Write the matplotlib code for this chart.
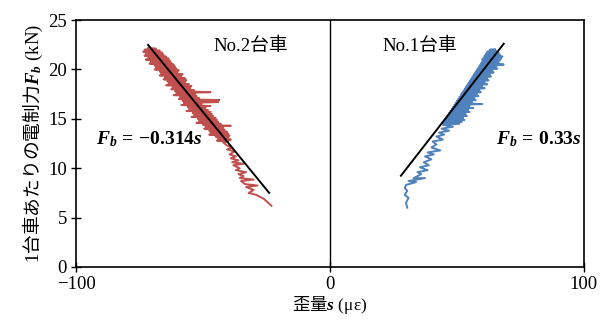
import numpy as np
import matplotlib
matplotlib.use("Agg")
import matplotlib.pyplot as plt

plt.rcParams['font.family'] = ['Liberation Serif', 'Noto Sans CJK JP']
plt.rcParams['mathtext.fontset'] = 'custom'
# latin bits inside the mixed CJK axis labels go through \mathsf
plt.rcParams['mathtext.rm'] = 'Liberation Serif'
plt.rcParams['mathtext.sf'] = 'Liberation Serif'
plt.rcParams['mathtext.it'] = 'Liberation Serif:italic:bold'
plt.rcParams['mathtext.bf'] = 'Liberation Serif:bold'

# No.2 bogie: strain s (με) vs braking force Fb (kN)
s2 = [-71.5, -68.5, -73.0, -67.0, -73.5, -66.0, -72.5, -65.5, -73.0, -64.5,
      -71.5, -63.5, -72.5, -63.0, -70.5, -62.5, -71.0, -61.5, -69.0, -61.0,
      -68.5, -60.5, -69.0, -59.5, -67.0, -60.0, -66.5, -58.0, -67.0, -58.5,
      -65.0, -57.0, -65.5, -56.5, -64.0, -57.0, -63.5, -55.5, -64.5, -54.5,
      -62.0, -55.0, -62.5, -53.5, -61.0, -47.0, -60.5, -53.0, -61.5, -52.5,
      -59.0, -51.5, -59.5, -43.5, -58.0, -44.0, -57.5, -50.5, -58.5, -47.0,
      -56.0, -49.0, -55.5, -48.0, -56.5, -47.0, -54.0, -46.5, -53.5, -46.0,
      -54.5, -45.0, -52.0, -44.5, -51.5, -44.0, -52.5, -43.0, -50.0, -39.0,
      -49.0, -42.0, -49.5, -41.5, -47.5, -40.5, -47.0, -40.0, -47.5, -39.5,
      -45.0, -40.0, -44.0, -39.0, -44.5, -40.0, -42.0,
      -40.5, -38.5, -40.5, -37.5, -39.5, -37.0, -39.0, -36.0, -38.5, -34.0,
      -38.0, -35.5, -37.0, -33.0, -36.0, -34.0, -35.5, -30.0, -35.0, -33.5,
      -28.5, -33.0, -30.0, -32.0, -29.0, -26.0, -23.0]
f2 = [22.2, 22.1, 22.0, 21.9, 21.8, 21.7, 21.6, 21.5, 21.4, 21.3,
      21.2, 21.1, 21.0, 20.9, 20.8, 20.7, 20.6, 20.5, 20.4, 20.3,
      20.2, 20.1, 20.0, 19.9, 19.8, 19.7, 19.6, 19.5, 19.4, 19.3,
      19.2, 19.1, 19.0, 18.9, 18.8, 18.7, 18.6, 18.5, 18.4, 18.3,
      18.2, 18.1, 18.0, 17.9, 17.8, 17.7, 17.6, 17.5, 17.4, 17.3,
      17.2, 17.1, 17.0, 16.9, 16.8, 16.7, 16.6, 16.5, 16.4, 16.3,
      16.2, 16.1, 16.0, 15.9, 15.8, 15.7, 15.6, 15.5, 15.4, 15.3,
      15.2, 15.1, 15.0, 14.9, 14.8, 14.7, 14.6, 14.5, 14.4, 14.3,
      14.2, 14.1, 14.0, 13.9, 13.8, 13.7, 13.6, 13.5, 13.4, 13.3,
      13.2, 13.1, 13.0, 12.9, 12.8, 12.7, 12.6,
      12.3, 12.1, 11.9, 11.7, 11.4, 11.2, 11.0, 10.8, 10.6, 10.45,
      10.3, 10.0, 9.8, 9.6, 9.4, 9.2, 9.0, 8.85, 8.7, 8.4,
      8.25, 8.1, 7.8, 7.5, 7.3, 6.9, 6.2]

# No.1 bogie
s1 = [30.5, 30.0, 31.0, 29.5, 30.5, 29.5, 30.0, 34.0, 31.0, 37.5,
      33.0, 36.0, 34.5, 38.5, 35.5, 39.0, 37.0, 40.0, 37.5, 41.0,
      38.5, 43.5, 40.0, 42.0, 40.5, 44.5, 42.0, 45.0, 43.0, 47.0,
      44.0, 48.5, 44.5,
      51.0, 44.5, 52.0, 45.0, 53.0, 45.5, 52.5, 46.0, 54.0, 46.5,
      53.5, 47.0, 55.0, 47.5, 54.5, 48.0, 56.5, 48.5, 55.0, 49.0,
      60.0, 49.5, 56.0, 50.0, 57.5, 50.5, 57.0, 51.0, 58.5, 51.5,
      58.0, 52.0, 59.5, 52.5, 59.0, 53.0, 61.0, 53.5, 60.0, 54.0,
      62.0, 54.5, 61.0, 55.0, 62.5, 55.5, 62.0, 56.0, 63.5, 56.5,
      63.0, 57.0, 64.5, 57.5, 64.0, 58.0, 66.0, 58.5, 65.5, 59.0,
      68.5, 59.5, 66.5, 60.0, 67.0, 60.0, 67.5, 60.5, 68.0, 61.0,
      67.0, 61.5, 66.5, 62.0, 65.5, 63.0, 65.0]
f1 = [6.0, 6.5, 7.0, 7.3, 7.7, 8.0, 8.3, 8.6, 8.7, 9.0,
      9.0, 9.4, 9.6, 9.8, 10.1, 10.3, 10.6, 10.9, 11.2, 11.4,
      11.6, 11.8, 12.1, 12.4, 12.7, 12.9, 13.2, 13.4, 13.6, 13.8,
      14.0, 14.2, 14.4,
      14.5, 14.6, 14.7, 14.8, 14.9, 15.0, 15.1, 15.2, 15.3, 15.4,
      15.5, 15.6, 15.7, 15.8, 15.9, 16.0, 16.1, 16.2, 16.3, 16.4,
      16.5, 16.6, 16.7, 16.8, 16.9, 17.0, 17.1, 17.2, 17.3, 17.4,
      17.5, 17.6, 17.7, 17.8, 17.9, 18.0, 18.1, 18.2, 18.3, 18.4,
      18.5, 18.6, 18.7, 18.8, 18.9, 19.0, 19.1, 19.2, 19.3, 19.4,
      19.5, 19.6, 19.7, 19.8, 19.9, 20.0, 20.1, 20.2, 20.3, 20.4,
      20.5, 20.6, 20.7, 20.8, 20.9, 21.0, 21.1, 21.2, 21.3, 21.4,
      21.5, 21.6, 21.7, 21.8, 21.9, 22.0, 22.05]

# regression lines Fb = k*s over their fitted ranges
k2, fit2 = -0.314, [-71.6, -23.9]
k1, fit1 = 0.33, [28.0, 68.5]

fig = plt.figure(figsize=(6.03, 3.24), dpi=100)
ax = fig.add_axes([0.126, 0.176, 0.842, 0.762])

ax.plot(s2, f2, color='#C0504D', lw=1.4)
ax.plot(s1, f1, color='#4F81BD', lw=1.4)
ax.plot(fit2, [k2 * v for v in fit2], color='black', lw=1.4)
ax.plot(fit1, [k1 * v for v in fit1], color='black', lw=1.4)
ax.axvline(0, color='black', lw=1.0)

ax.text(-31, 22.3, 'No.2台車', ha='center', va='center', fontsize=13.5)
ax.text(35.5, 22.3, 'No.1台車', ha='center', va='center', fontsize=13.5)
ax.text(-92, 12.9, r'$F_b\,\mathbf{=}\,\mathbf{-0.314}s$', ha='left',
        va='center', fontsize=14)
ax.text(65.5, 12.9, r'$F_b\,\mathbf{=}\,\mathbf{0.33}s$', ha='left',
        va='center', fontsize=14)

ax.set_xlim(-100, 100)
ax.set_ylim(0, 25)
ax.set_xticks([-100, 0, 100])
ax.set_xticklabels(['−100', '0', '100'])
ax.set_yticks([0, 5, 10, 15, 20, 25])
ax.tick_params(direction='inout', length=7, width=1, labelsize=13.5, pad=3)
for sp in ax.spines.values():
    sp.set_linewidth(1.2)

# plain parts of a mathtext string use the text's own (single) family
ax.set_xlabel(r'歪量$s\ \mathsf{(με)}$', fontsize=12.5, labelpad=1,
              fontfamily='Noto Sans CJK JP')
ax.set_ylabel(r'$\mathsf{1}$台車あたりの電制力$F_b\ \mathsf{(kN)}$',
              fontsize=13.5, labelpad=2, fontfamily='Noto Sans CJK JP')

fig.savefig('out.png', dpi=100)
